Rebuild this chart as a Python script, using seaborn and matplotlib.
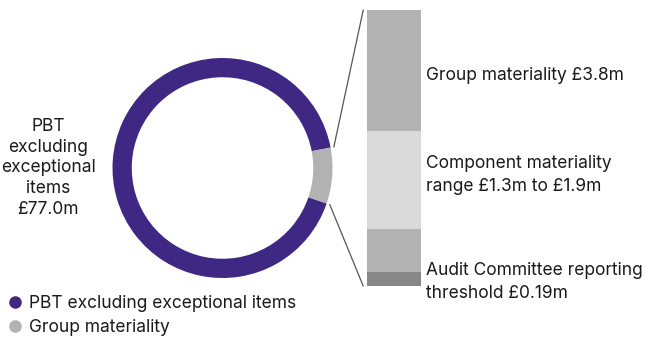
import numpy as np
import seaborn as sns
import matplotlib.pyplot as plt
from matplotlib.lines import Line2D
from matplotlib.patches import ConnectionPatch

# ring shares as drawn (PBT vs group materiality)
ring_labels = ["PBT excluding exceptional items", "Group materiality"]
ring_shares = [91.8, 8.2]
ring_colors = ["#3f2883", "#b2b2b2"]

# stacked bar, bottom to top
bar_segments = [0.19, 0.59, 1.35, 1.67]
bar_colors = ["#878787", "#b2b2b2", "#dadada", "#b2b2b2"]
bar_labels = ["Audit Committee reporting\nthreshold £0.19m",
              "Component materiality\nrange £1.3m to £1.9m",
              "Group materiality £3.8m"]

sns.set_theme(style="white")
plt.rcParams['font.family'] = ['Inter', 'DejaVu Sans']
txt_color = "#1a1a1a"
fs = 12.5

W, H = 650, 340
fig = plt.figure(figsize=(W / 100, H / 100), dpi=100)


def fx(px):
    return px / W


def fy(py):
    return 1 - py / H


# donut
cx, cy, r = 222.5, 168, 110
ax1 = fig.add_axes([fx(cx - r), fy(cy + r), 2 * r / W, 2 * r / H])
start = 10.7
ax1.pie(ring_shares, colors=ring_colors, startangle=start, counterclock=True,
        wedgeprops=dict(width=0.175, linewidth=0))
ax1.set_xlim(-1, 1)
ax1.set_ylim(-1, 1)
ax1.set_aspect("equal")
ax1.axis("off")

# stacked bar
ax2 = fig.add_axes([fx(367), fy(286), 54 / W, 276 / H])
cum = np.cumsum(bar_segments)
for i in range(len(cum) - 1, -1, -1):
    sns.barplot(x=["m"], y=[cum[i]], color=bar_colors[i], width=1.0,
                saturation=1, ax=ax2, linewidth=0)
ax2.set_xlim(-0.5, 0.5)
ax2.set_ylim(0, cum[-1])
ax2.axis("off")

# connector lines from ring gap edges to bar corners
a_top = np.deg2rad(start)
a_bot = np.deg2rad(start - 360 * ring_shares[1] / sum(ring_shares))
rr = 1.03
for ang, yb in [(a_top, cum[-1]), (a_bot, 0)]:
    con = ConnectionPatch(xyA=(rr * np.cos(ang), rr * np.sin(ang)), coordsA=ax1.transData,
                          xyB=(-0.57, yb), coordsB=ax2.transData,
                          color="#555555", linewidth=0.9)
    fig.add_artist(con)

# labels
fig.text(fx(48), fy(168), "PBT\nexcluding\nexceptional\nitems\n£77.0m", ha="center", va="center",
         fontsize=fs, color=txt_color, linespacing=1.3)
fig.text(fx(426), fy(75), bar_labels[2], ha="left", va="center", fontsize=fs, color=txt_color)
fig.text(fx(426), fy(175), bar_labels[1], ha="left", va="center", fontsize=fs, color=txt_color,
         linespacing=1.5)
fig.text(fx(426), fy(282), bar_labels[0], ha="left", va="center", fontsize=fs, color=txt_color,
         linespacing=1.5)

handles = [Line2D([], [], marker="o", linestyle="", markersize=8, color=c) for c in ring_colors]
fig.legend(handles, ring_labels, loc="lower left", bbox_to_anchor=(fx(0), fy(345)),
           frameon=False, fontsize=fs, handlelength=0.7, handletextpad=0.45,
           labelspacing=0.42, borderaxespad=0.1, labelcolor=txt_color)

fig.savefig("out.png", dpi=100)
